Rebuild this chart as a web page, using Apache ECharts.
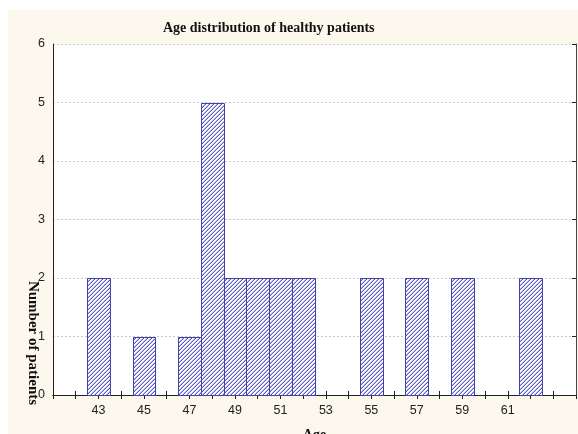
<!DOCTYPE html>
<html>
<head>
<meta charset="utf-8">
<script src="https://cdn.jsdelivr.net/npm/echarts@6/dist/echarts.min.js"></script>
<style>
html,body{margin:0;padding:0;background:#ffffff;overflow:hidden;}
#chart{position:absolute;left:8px;top:10px;width:570px;height:424px;}
</style>
</head>
<body>
<div id="chart"></div>
<script>
// Data
var ages = [43, 45, 47, 48, 49, 50, 51, 52, 55, 57, 59, 62];
var counts = [2, 1, 1, 5, 2, 2, 2, 2, 2, 2, 2, 2];
var xTickLabels = [43, 45, 47, 49, 51, 53, 55, 57, 59, 61];
var yTickLabels = [0, 1, 2, 3, 4, 5, 6];
var titleText = 'Age distribution of healthy patients';
var xName = 'Age';
var yName = 'Number of patients';

// hatch pattern
var pc = document.createElement('canvas');
pc.width = 4; pc.height = 4;
var pctx = pc.getContext('2d');
pctx.fillStyle = '#ffffff';
pctx.fillRect(0, 0, 4, 4);
for (var px = 0; px < 4; px++) {
  for (var py = 0; py < 4; py++) {
    var k = (px + py) % 4;
    if (k === 3) { pctx.fillStyle = '#5a5abf'; pctx.fillRect(px, py, 1, 1); }
    else if (k === 2) { pctx.fillStyle = '#bcbce8'; pctx.fillRect(px, py, 1, 1); }
  }
}

var data = ages.map(function (a, i) { return [a, counts[i]]; });

var chart = echarts.init(document.getElementById('chart'), null, {renderer: 'canvas'});
var labelFont = {fontFamily: 'Liberation Sans', fontSize: 12.5, color: '#222'};

chart.setOption({
  backgroundColor: '#fcf8ee',
  animation: false,
  title: {
    text: titleText,
    left: 150, top: 6,
    textStyle: {fontFamily: 'Liberation Serif', fontWeight: 'bold', fontSize: 14, color: '#111'}
  },
  grid: {left: 45, top: 34, right: 2, bottom: 39, show: true, backgroundColor: '#ffffff', borderWidth: 0,
         containLabel: false, outerBoundsMode: 'none'},
  xAxis: [{
    type: 'value', min: 41, max: 64, interval: 1,
    name: xName, nameLocation: 'middle', nameGap: 33,
    nameTextStyle: {fontFamily: 'Liberation Serif', fontWeight: 'bold', fontSize: 14, color: '#111'},
    axisLine: {show: true, lineStyle: {color: '#222', width: 1}},
    axisTick: {show: true, inside: true, length: 4, lineStyle: {color: '#222'}},
    axisLabel: Object.assign({margin: 9, showMinLabel: false, showMaxLabel: false,
      formatter: function (v) { return xTickLabels.indexOf(v) >= 0 ? String(v) : ''; }}, labelFont),
    splitLine: {show: false}
  }, {
    type: 'value', position: 'top', min: 41, max: 64, interval: 1,
    axisLine: {show: true, lineStyle: {color: '#222', width: 1}},
    axisTick: {show: true, inside: true, length: 4, lineStyle: {color: '#222'}},
    axisLabel: {show: false},
    splitLine: {show: false}
  }],
  yAxis: [{
    type: 'value', min: 0, max: 6, interval: 1,
    axisLine: {show: true, lineStyle: {color: '#222', width: 1}},
    axisTick: {show: false},
    axisLabel: Object.assign({margin: 8,
      formatter: function (v) { return yTickLabels.indexOf(v) >= 0 ? String(v) : ''; }}, labelFont),
    splitLine: {show: true, lineStyle: {color: '#c8c8c8', type: [2, 2], width: 1}}
  }, {
    type: 'value', position: 'right', min: 0, max: 6, interval: 1,
    axisLine: {show: true, lineStyle: {color: '#444', width: 1}},
    axisTick: {show: true, inside: true, length: 4, lineStyle: {color: '#222'}},
    axisLabel: {show: false},
    splitLine: {show: false}
  }],
  graphic: [{
    type: 'text',
    x: 25, y: 333,
    rotation: -Math.PI / 2,
    style: {
      text: yName, align: 'center', verticalAlign: 'middle',
      font: 'bold 15px "Liberation Serif"', fill: '#111'
    }
  }],
  series: [{
    type: 'custom',
    xAxisIndex: 0, yAxisIndex: 0,
    data: data,
    renderItem: function (params, api) {
      var x = api.value(0), y = api.value(1);
      var p0 = api.coord([x - 0.5, y]);
      var p1 = api.coord([x + 0.5, 0]);
      return {
        type: 'rect',
        shape: {x: Math.round(p0[0]) + 0.5, y: Math.round(p0[1]) + 0.5,
                width: Math.round(p1[0]) - Math.round(p0[0]), height: Math.round(p1[1]) - Math.round(p0[1])},
        style: {fill: {image: pc, repeat: 'repeat'}, stroke: '#4040aa', lineWidth: 1}
      };
    }
  }]
});
</script>
</body>
</html>
